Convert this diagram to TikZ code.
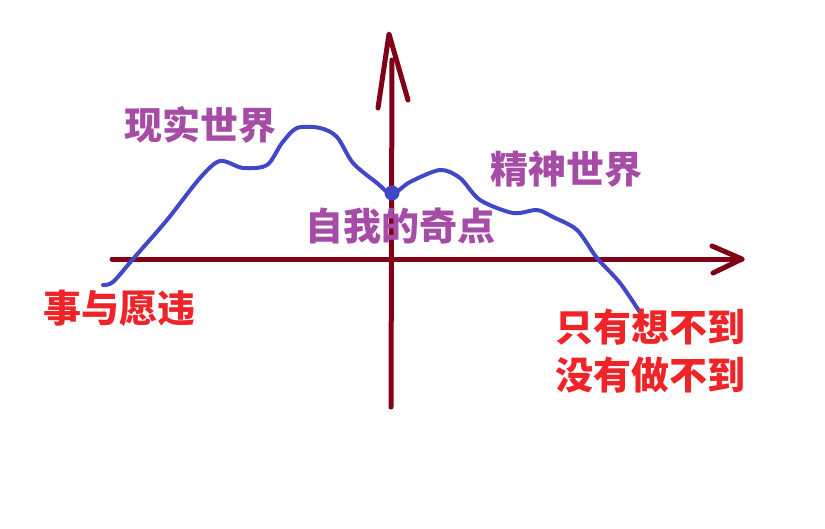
\documentclass[tikz,border=0pt]{standalone}
\usepackage{fontspec}
\newfontfamily\cjk{Noto Sans CJK SC}
\definecolor{axiscol}{HTML}{800018}
\definecolor{curvecol}{HTML}{4048C8}
\definecolor{purp}{HTML}{A64CA6}
\definecolor{redt}{HTML}{EE2428}
\begin{document}
\begin{tikzpicture}[x=1pt,y=-1pt,
  axis/.style={draw=axiscol,line width=5pt,line cap=round,line join=round},
  curve/.style={draw=curvecol,line width=4pt,line cap=round,line join=round},
  lab/.style={inner sep=0pt,font=\cjk\bfseries\fontsize{38}{40}\selectfont},
  purplab/.style={lab,text=purp},
  redlab/.style={lab,text=redt}]
\useasboundingbox (0,0) rectangle (825,528);
% axes
\coordinate (xl) at (112,259);
\coordinate (xr) at (742,259);
\coordinate (xa1) at (712,246);
\coordinate (xa2) at (713,273);
\coordinate (yb) at (391,407);
\coordinate (yt) at (392,60);
\coordinate (ytip) at (389,34);
\coordinate (ya1) at (378,108);
\coordinate (ya2) at (408,100);
\draw[axis] (xl) -- (xr);
\draw[axis] (xa1) -- (xr) -- (xa2);
\draw[axis] (yb) -- (yt);
\draw[axis] (ya1) -- (ytip) -- (ya2);
% curve
\draw[curve] plot[smooth,tension=0.5] coordinates {
 (103,285) (113,282) (133,259) (167,220) (200,178) (220,161) (243,168)
 (267,165) (282,143) (297,128) (320,128) (337,137) (353,163) (377,183)
 (392,194) (410,182) (440,170) (460,178) (480,200) (513,213) (537,210)
 (553,217) (577,230) (597,258) (620,283) (643,317)};
\node[circle,fill=curvecol,inner sep=0pt,minimum size=15pt] (dot) at (392,193) {};
% labels
\node[purplab] (real) at (200,125) {现实世界};
\node[purplab] (self) at (400,226) {自我的奇点};
\node[purplab] (spirit) at (566,169) {精神世界};
\node[redlab] (contrary) at (119,308) {事与愿违};
\node[redlab] (think) at (650,327) {只有想不到};
\node[redlab] (do) at (650,375) {没有做不到};
\end{tikzpicture}
\end{document}
